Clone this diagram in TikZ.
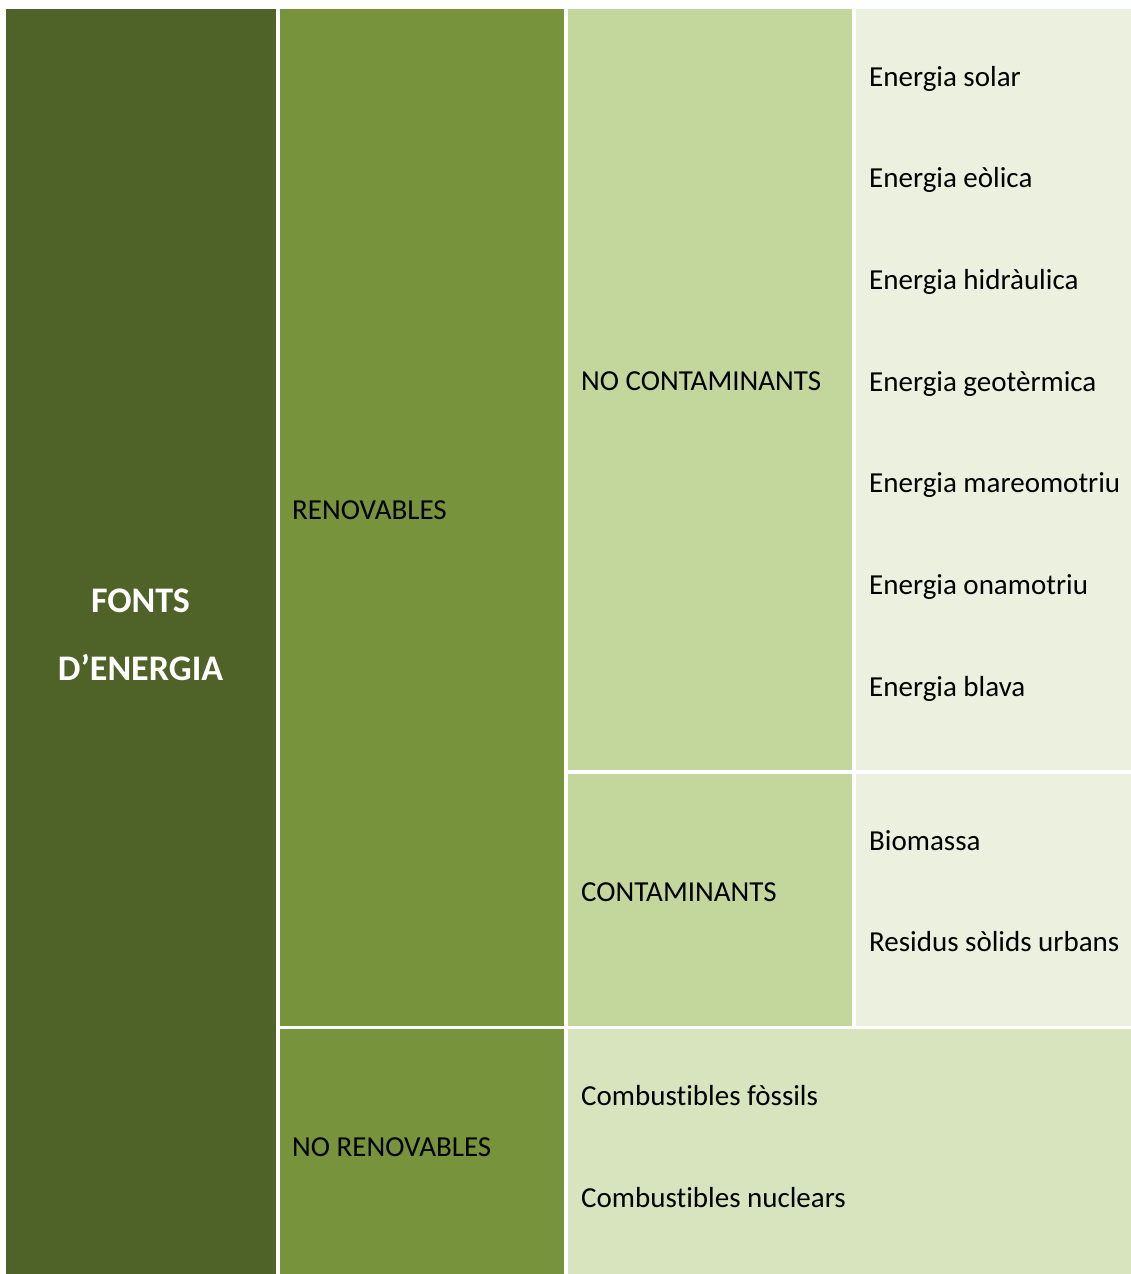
\documentclass[tikz,border=0pt]{standalone}
\usepackage{fontspec}
\setmainfont[Ligatures={NoCommon}]{Carlito}
\definecolor{dkgreen}{HTML}{4F6228}
\definecolor{midgreen}{HTML}{77933C}
\definecolor{ltgreen}{HTML}{C3D69B}
\definecolor{palegreen}{HTML}{EBF1DE}
\definecolor{softgreen}{HTML}{D7E4BD}
\tikzset{
  lbl/.style={anchor=base west, inner sep=0pt, font=\fontsize{29}{31}\selectfont, text=black},
  title/.style={anchor=base, inner sep=0pt, font=\fontsize{36}{38}\selectfont\bfseries, text=white}
}
\begin{document}
\begin{tikzpicture}[x=1pt,y=-1pt]
\useasboundingbox (0,0) rectangle (1131,1274);
\fill[white] (0,0) rectangle (1131,1274);
% table cells
\fill[dkgreen]   (6,9)     rectangle (276,1274);
\fill[midgreen]  (280,9)   rectangle (564,1026);
\fill[midgreen]  (280,1029) rectangle (564,1274);
\fill[ltgreen]   (568,9)   rectangle (852,770);
\fill[ltgreen]   (568,774) rectangle (852,1026);
\fill[palegreen] (856,9)   rectangle (1131,770);
\fill[palegreen] (856,774) rectangle (1131,1026);
\fill[softgreen] (568,1029) rectangle (1131,1274);
% first column
\node[title] (fonts) at (140.5,612.5) {FONTS};
\node[title] (energia) at (140.5,680) {D’ENERGIA};
% second column
\node[lbl] (renov) at (292,519) {RENOVABLES};
\node[lbl] (norenov) at (292,1156) {NO RENOVABLES};
% third column
\node[lbl] (nocont) at (581,390) {NO CONTAMINANTS};
\node[lbl] (cont) at (581,901) {CONTAMINANTS};
\node[lbl] (fossils) at (581,1105) {Combustibles fòssils};
\node[lbl] (nuclears) at (581,1207) {Combustibles nuclears};
% fourth column
\node[lbl] (solar) at (869,86) {Energia solar};
\node[lbl] (eolica) at (869,187.7) {Energia eòlica};
\node[lbl] (hidraulica) at (869,289.3) {Energia hidràulica};
\node[lbl] (geotermica) at (869,391) {Energia geotèrmica};
\node[lbl] (mareo) at (869,492.7) {Energia mareomotriu};
\node[lbl] (ona) at (869,594.3) {Energia onamotriu};
\node[lbl] (blava) at (869,696) {Energia blava};
\node[lbl] (biomassa) at (869,850) {Biomassa};
\node[lbl] (residus) at (869,951) {Residus sòlids urbans};
\end{tikzpicture}
\end{document}
